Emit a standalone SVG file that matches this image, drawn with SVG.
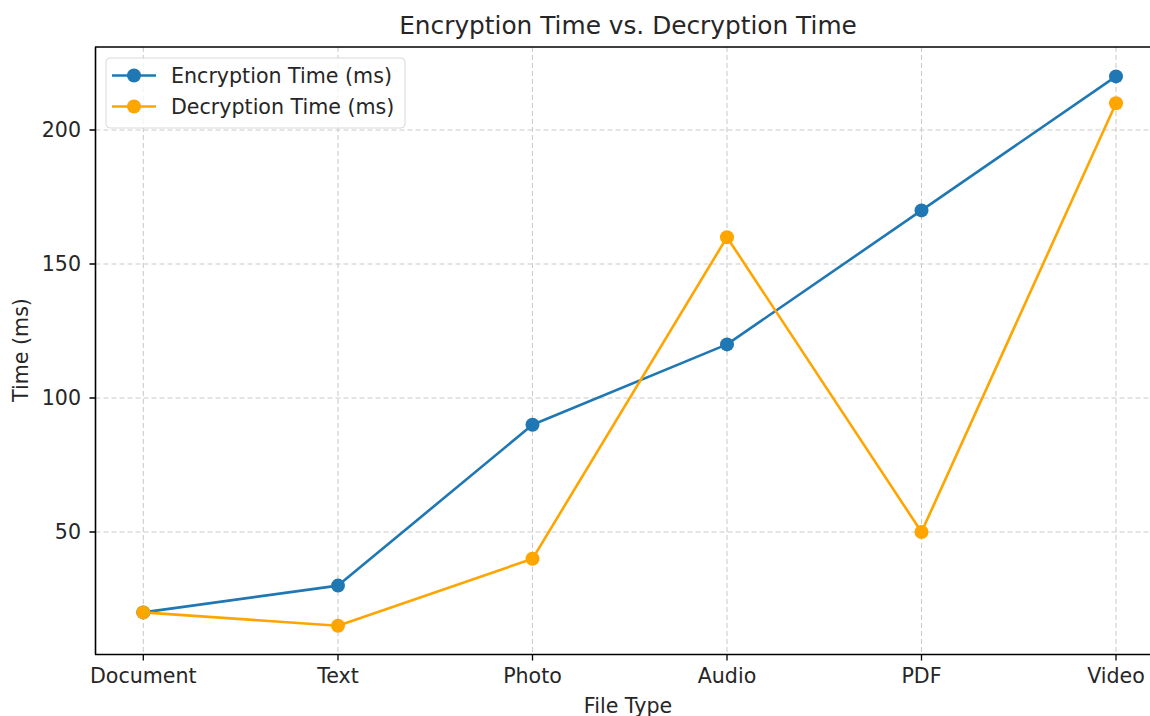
<svg xmlns="http://www.w3.org/2000/svg" width="1150" height="716" viewBox="0 0 1150 716">
  <style>
    text { font-family: "DejaVu Sans", "Liberation Sans", sans-serif; fill: #262626; }
    .tick { font-size: 20.6px; }
    .title { font-size: 24.8px; }
    .axlabel { font-size: 20.6px; }
    .legend { font-size: 20.6px; }
    .grid { stroke: #cccccc; stroke-width: 1.1; stroke-dasharray: 5 3; fill: none; }
    .spine { stroke: #000; stroke-width: 1.6; fill: none; }
    .tk { stroke: #000; stroke-width: 1.3; }
    .enc { stroke: #1f77b4; stroke-width: 2.6; fill: none; stroke-linejoin: round; }
    .dec { stroke: #ffa500; stroke-width: 2.6; fill: none; stroke-linejoin: round; }
    .encm { fill: #1f77b4; }
    .decm { fill: #ffa500; }
  </style>
  <rect width="1150" height="716" fill="#fff"/>

  <!-- grid -->
  <g id="grid">
    <path class="grid" d="M143.3 47V654M338 47V654M532.5 47V654M727 47V654M921.5 47V654M1116 47V654"/>
    <path class="grid" d="M95.5 130H1150M95.5 264H1150M95.5 398H1150M95.5 532H1150"/>
  </g>

  <!-- axes -->
  <g id="axes">
    <path class="spine" d="M95.5 47V654.5M95 654.5H1150M95 47H1150"/>
    <path class="tk" d="M143.3 654.5v6M338 654.5v6M532.5 654.5v6M727 654.5v6M921.5 654.5v6M1116 654.5v6"/>
    <path class="tk" d="M95.5 130h-6M95.5 264h-6M95.5 398h-6M95.5 532h-6"/>
  </g>

  <g id="xticks" class="tick" text-anchor="middle">
    <text x="143.3" y="683">Document</text>
    <text x="338" y="683">Text</text>
    <text x="532.5" y="683">Photo</text>
    <text x="727" y="683">Audio</text>
    <text x="921.5" y="683">PDF</text>
    <text x="1116" y="683">Video</text>
  </g>
  <g id="yticks" class="tick" text-anchor="end">
    <text x="81" y="137">200</text>
    <text x="81" y="271">150</text>
    <text x="81" y="405">100</text>
    <text x="81" y="539">50</text>
  </g>

  <text class="title" x="628" y="34" text-anchor="middle">Encryption Time vs. Decryption Time</text>
  <text class="axlabel" x="628" y="713" text-anchor="middle">File Type</text>
  <text class="axlabel" transform="translate(28 350) rotate(-90)" text-anchor="middle">Time (ms)</text>

  <!-- data series -->
  <g id="connectors">
    <polyline id="encryption-line" class="enc" points="143.3,612.4 338,585.6 532.5,424.8 727,344.4 921.5,210.4 1116,76.4"/>
    <polyline id="decryption-line" class="dec" points="143.3,612.4 338,625.8 532.5,558.8 727,237.2 921.5,532 1116,103.2"/>
  </g>
  <g id="encryption-markers" class="encm">
    <circle cx="143.3" cy="612.4" r="7"/>
    <circle cx="338" cy="585.6" r="7"/>
    <circle cx="532.5" cy="424.8" r="7"/>
    <circle cx="727" cy="344.4" r="7"/>
    <circle cx="921.5" cy="210.4" r="7"/>
    <circle cx="1116" cy="76.4" r="7"/>
  </g>
  <g id="decryption-markers" class="decm">
    <circle cx="143.3" cy="612.4" r="7"/>
    <circle cx="338" cy="625.8" r="7"/>
    <circle cx="532.5" cy="558.8" r="7"/>
    <circle cx="727" cy="237.2" r="7"/>
    <circle cx="921.5" cy="532" r="7"/>
    <circle cx="1116" cy="103.2" r="7"/>
  </g>

  <!-- legend -->
  <g id="legend">
    <rect x="106" y="58" width="299" height="70" rx="4" fill="#fff" fill-opacity="0.8" stroke="#d9d9d9" stroke-width="1"/>
    <line class="enc" x1="112" y1="75.5" x2="156" y2="75.5"/>
    <circle class="encm" cx="134" cy="75.5" r="7"/>
    <text class="legend" x="171" y="82.5">Encryption Time (ms)</text>
    <line class="dec" x1="112" y1="106.5" x2="156" y2="106.5"/>
    <circle class="decm" cx="134" cy="106.5" r="7"/>
    <text class="legend" x="171" y="113.5">Decryption Time (ms)</text>
  </g>
</svg>
